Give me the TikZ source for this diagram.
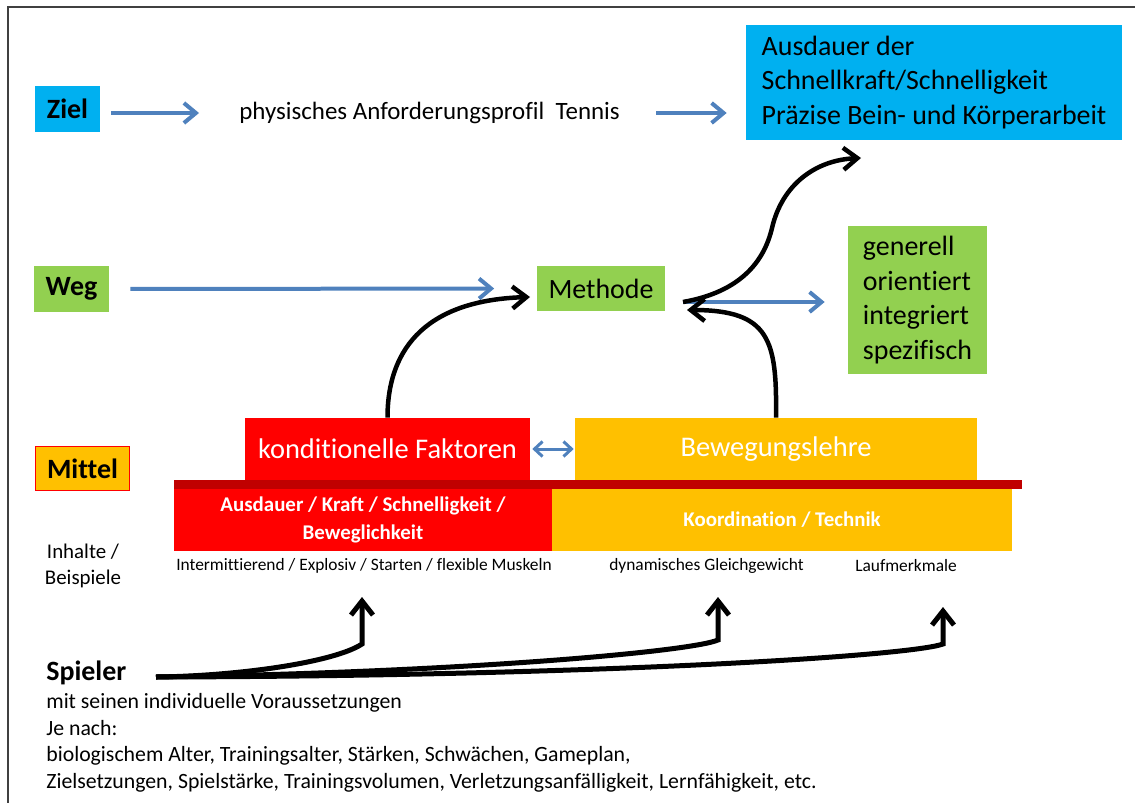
\documentclass[tikz,border=0pt]{standalone}
\usepackage{fontspec}
\setmainfont{Carlito}[Ligatures=NoCommon]
\usepackage{tikz}
\usetikzlibrary{positioning}
\usetikzlibrary{arrows.meta}
\pgfdeclarelayer{nodelayer}
\pgfdeclarelayer{edgelayer}
\pgfsetlayers{nodelayer,edgelayer,main}
\definecolor{slidecyan}{RGB}{0,176,240}
\definecolor{slidegreen}{RGB}{146,208,80}
\definecolor{slidered}{RGB}{255,0,0}
\definecolor{slideorange}{RGB}{255,192,0}
\definecolor{slidedarkred}{RGB}{192,0,0}
\definecolor{slideblue}{RGB}{79,129,189}
\tikzset{
    none/.style = {inner sep=0pt},
    headbox/.style = {inner sep=0pt, font=\fontsize{15.9}{19}\selectfont\bfseries},
    bigtext/.style = {inner sep=0pt, font=\fontsize{15.9}{19.8}\selectfont},
    phystext/.style = {inner sep=0pt, font=\fontsize{14.2}{16}\selectfont},
    topbox/.style = {inner sep=0pt, text=white, font=\fontsize{16.2}{18}\selectfont},
    subbox/.style = {inner sep=0pt, text=white, align=center, font=\fontsize{11.9}{15.9}\selectfont\bfseries},
    smalltext/.style = {inner sep=0pt, font=\fontsize{9.9}{12}\selectfont},
    sidetext/.style = {inner sep=0pt, font=\fontsize{11.9}{14.5}\selectfont},
    spielertext/.style = {inner sep=0pt, font=\fontsize{12.4}{15.2}\selectfont},
    bluearrow/.style = {draw=slideblue, line width=0.8mm, -{Straight Barb[length=2.4mm,width=4mm]}},
    blackarrow/.style = {line width=0.9mm, -{Straight Barb[length=2.8mm,width=4.4mm]}}
}
\begin{document}
\begin{tikzpicture}[x=0.02cm, y=-0.02cm]
    \useasboundingbox (0,0) rectangle (1135,803);
    \draw [line width=0.4mm, color=black!75] (8,803) -- (8,7) -- (1135,7);
    \begin{pgfonlayer}{nodelayer}
        \node [headbox, fill=slidecyan, minimum width=13mm, minimum height=9.2mm] (0) at (67.5, 109) {Ziel};
        \node [phystext, anchor=west] (1) at (239, 113) {physisches Anforderungsprofil\ \ Tennis};
        \node [bigtext, fill=slidecyan, align=left, minimum width=75.2mm, minimum height=23mm] (2) at (934, 82.5) {Ausdauer der\\Schnellkraft/Schnelligkeit\\Präzise Bein- und Körperarbeit};
        \node [headbox, fill=slidegreen, minimum width=15mm, minimum height=9.2mm] (3) at (71.5, 289) {Weg};
        \node [bigtext, fill=slidegreen, minimum width=25.8mm, minimum height=9.2mm] (4) at (601, 288.5) {Methode};
        \node [bigtext, fill=slidegreen, align=left, minimum width=27.8mm, minimum height=29.6mm] (5) at (917.5, 300) {generell\\orientiert\\integriert\\spezifisch};
        \node [headbox, fill=slideorange, draw=slidered, line width=0.2mm, minimum width=19mm, minimum height=9mm] (6) at (82.5, 468.5) {Mittel};
        \node [topbox, fill=slidered, minimum width=57mm, minimum height=12.4mm] (7) at (387.5, 449) {konditionelle Faktoren};
        \node [topbox, fill=slideorange, minimum width=80.4mm, minimum height=12.4mm] (8) at (776, 449) {Bewegungslehre};
        \node [none, fill=slidedarkred, minimum width=169.6mm, minimum height=1.8mm] (9) at (598, 484.5) {};
        \node [subbox, fill=slidered, minimum width=75.6mm, minimum height=12.4mm] (10) at (363, 520) {Ausdauer / Kraft / Schnelligkeit /\\Beweglichkeit};
        \node [subbox, fill=slideorange, minimum width=92mm, minimum height=12.4mm] (11) at (782, 520) {Koordination / Technik};
        \node [sidetext, align=center] (12) at (83, 566) {Inhalte /\\Beispiele};
        \node [smalltext] (13) at (364, 566) {Intermittierend / Explosiv / Starten / flexible Muskeln};
        \node [smalltext] (14) at (706.5, 566) {dynamisches Gleichgewicht};
        \node [smalltext] (15) at (906, 566) {Laufmerkmale};
        \node [headbox, anchor=west] (16) at (46, 673) {Spieler};
        \node [spielertext, anchor=north west, align=left] (17) at (46, 693) {mit seinen individuelle Voraussetzungen\\Je nach:\\biologischem Alter, Trainingsalter, Stärken, Schwächen, Gameplan,\\Zielsetzungen, Spielstärke, Trainingsvolumen, Verletzungsanfälligkeit, Lernfähigkeit, etc.};
        \node [style=none] (18) at (530, 297) {};
        \node [style=none] (19) at (687, 310) {};
        \node [style=none] (20) at (683, 302) {};
        \node [style=none] (21) at (861, 158) {};
        \node [style=none] (22) at (156, 677) {};
        \node [style=none] (23) at (362, 597) {};
        \node [style=none] (24) at (718, 597) {};
        \node [style=none] (25) at (943, 607) {};
    \end{pgfonlayer}
    \begin{pgfonlayer}{edgelayer}
        \draw [bluearrow, shorten <=2.2mm, shorten >=8mm] (1.west -| 0.east) to (1.west);
        \draw [bluearrow, shorten <=7.2mm, shorten >=3.8mm] (1.east) to (1.east -| 2.west);
        \draw [bluearrow, shorten <=4.2mm, shorten >=8.4mm] (3.east) to (4.west);
        \draw [bluearrow] (20.center) to ([xshift=-4.6mm]20.center -| 5.west);
        \draw [bluearrow, line width=0.6mm, {Straight Barb[length=1.6mm,width=3mm]}-{Straight Barb[length=1.6mm,width=3mm]}, shorten <=0.4mm, shorten >=0.2mm] (7.east) to (8.west);
        \draw [blackarrow] (7.north) .. controls (387.5, 345) and (430, 300) .. (18.center);
        \draw [blackarrow] (8.north) .. controls (777, 340) and (770, 310) .. (19.center);
        \draw [blackarrow] (20.center) .. controls (740, 292) and (764, 262) .. (772, 228) .. controls (782, 185) and (815, 160) .. (21.center);
        \draw [blackarrow, line width=1mm] (22.center) .. controls (240, 676) and (335, 662) .. (362, 644) to (23.center);
        \draw [blackarrow, line width=1mm] (22.center) .. controls (450, 673) and (690, 652) .. (718, 640) to (24.center);
        \draw [blackarrow, line width=1mm] (22.center) .. controls (600, 676) and (910, 656) .. (943, 644) to (25.center);
    \end{pgfonlayer}
\end{tikzpicture}
\end{document}
